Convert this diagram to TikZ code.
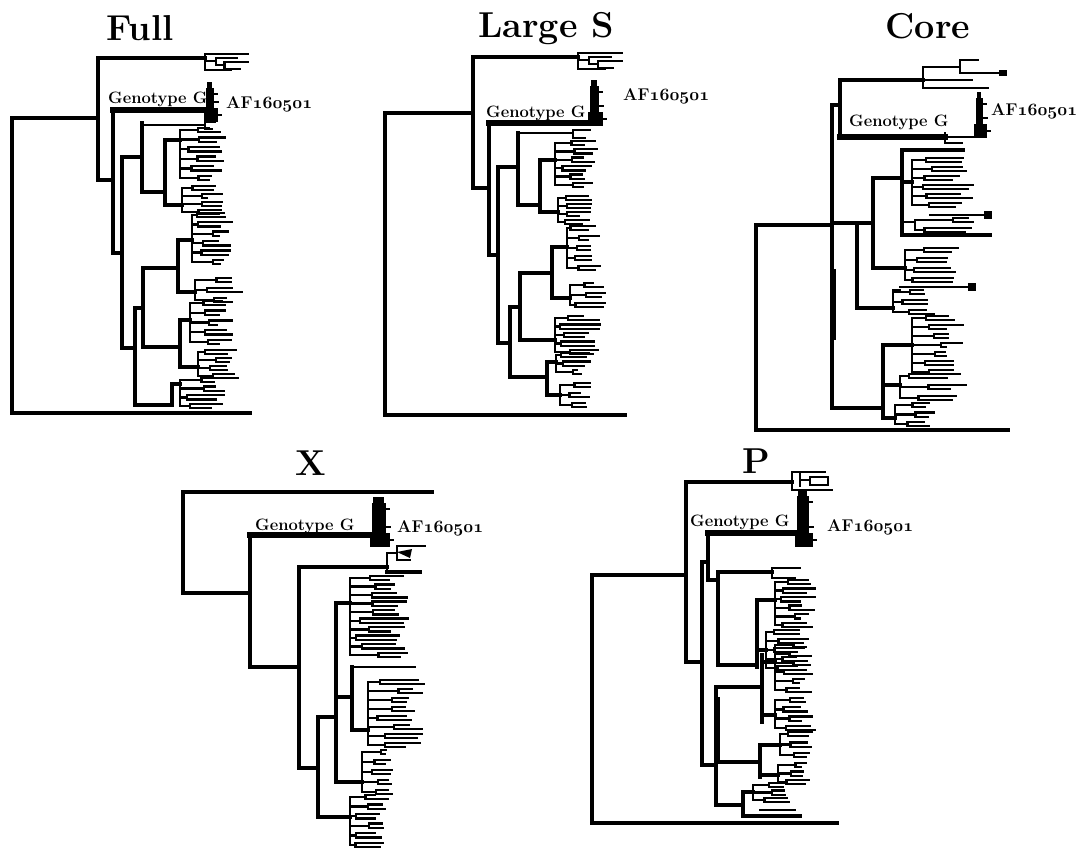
\documentclass[tikz,border=0pt]{standalone}
\begin{document}
\begin{tikzpicture}[x=1pt,y=-1pt,
  br/.style={line width=3.4pt,line cap=rect},
  lf/.style={line width=2.4pt,line cap=rect},
  gt/.style={line width=5.2pt,line cap=rect},
  ttl/.style={font=\fontsize{36}{42}\selectfont\bfseries,anchor=base,inner sep=0pt},
  glab/.style={font=\fontsize{16.5}{19}\selectfont\bfseries,anchor=base west,inner sep=0pt},
  alab/.style={font=\fontsize{17}{20}\selectfont\bfseries,anchor=base west,inner sep=0pt}]
\useasboundingbox (0,0) rectangle (1079,852);

% a two-level comb of leaves: x, ytop, ybottom, right end, seed
\newcommand\clust[5]{%
  \pgfmathsetseed{#5}%
  \pgfmathtruncatemacro\cN{max(1,round((#3-#2)/9))}%
  \draw[lf] (#1,#2) -- (#1,#3);%
  \foreach \k in {0,...,\cN}{%
    \pgfmathsetmacro\gy{#2+\k*(#3-#2)/\cN}%
    \pgfmathsetmacro\gx{#1+(0.1+0.45*rnd)*(#4-#1)}%
    \pgfmathsetmacro\la{#4-rnd*0.4*(#4-#1)}%
    \pgfmathsetmacro\lb{#4-rnd*0.4*(#4-#1)}%
    \draw[lf] (#1,\gy) -- (\gx,\gy) (\gx,\gy-2.2) -- (\gx,\gy+2.2)
      (\gx,\gy-2.2) -- (\la,\gy-2.2) (\gx,\gy+2.2) -- (\lb,\gy+2.2);%
  }%
}
% small outgroup clade: x, y, width
\newcommand\tclade[3]{%
  \draw[lf] (#1,#2-4) -- (#1,#2+12)
    (#1,#2-4) -- (#1+#3,#2-4)
    (#1,#2+3) -- (#1+0.25*#3,#2+3)
    (#1+0.25*#3,#2) -- (#1+0.25*#3,#2+7)
    (#1+0.25*#3,#2) -- (#1+0.75*#3,#2)
    (#1+0.25*#3,#2+7) -- (#1+0.45*#3,#2+7)
    (#1+0.45*#3,#2+4) -- (#1+0.45*#3,#2+11)
    (#1+0.45*#3,#2+4) -- (#1+#3,#2+4)
    (#1+0.45*#3,#2+11) -- (#1+0.8*#3,#2+11)
    (#1,#2+12) -- (#1+0.6*#3,#2+12);%
}
% dense genotype G clade: x, ytop, ybottom, width
\newcommand\afblock[4]{%
  \fill (#1,#2+6) rectangle (#1+#4,#3);
  \fill (#1+1,#2) rectangle (#1+#4-2,#2+8);
  \fill (#1-2,#3-14) rectangle (#1+#4+4,#3);
  \draw[lf] (#1+#4,#3-7) -- (#1+#4+7,#3-7) (#1+#4,#3-20) -- (#1+#4+4,#3-20)
    (#1+#4,#2+12) -- (#1+#4+3,#2+12);%
}
\newcommand\afname{AF{\usefont{OML}{cmm}{b}{it}160501}}

% ---------------- Full ----------------
\node[ttl] (tFull) at (140,40) {Full};
\draw[br] (12,118)--(12,413) (12,118)--(98,118) (12,413)--(250,413);
\draw[br] (98,58)--(98,180) (98,58)--(205,58) (98,180)--(113,180);
\tclade{205}{58}{43}
\draw[br] (113,110)--(113,253) (113,253)--(122,253);
\draw[gt] (113,110)--(205,110);
\afblock{206}{82}{122}{8}
\draw[br] (122,157)--(122,348) (122,157)--(142,157) (122,348)--(135,348);
\draw[br] (142,123)--(142,192) (142,192)--(165,192);
\draw[lf] (142,125)--(205,125) (205,122)--(205,129) (205,122)--(215,122) (205,129)--(212,129);
\draw[br] (165,140)--(165,205) (165,140)--(180,140) (165,205)--(182,205);
\clust{180}{130}{178}{226}{11}
\clust{182}{188}{212}{222}{12}
\draw[br] (135,308)--(135,405) (135,308)--(143,308) (135,405)--(172,405);
\draw[br] (143,268)--(143,347) (143,268)--(178,268) (143,347)--(180,347);
\draw[br] (178,240)--(178,292) (178,240)--(192,240) (178,292)--(195,292);
\clust{192}{215}{262}{232}{13}
\clust{195}{280}{300}{244}{14}
\draw[br] (180,320)--(180,367) (180,320)--(190,320) (180,367)--(198,367);
\clust{190}{303}{342}{235}{15}
\clust{198}{352}{376}{240}{16}
\draw[br] (172,384)--(172,405) (172,384)--(180,384);
\clust{180}{380}{406}{225}{17}
\node[glab] (gFull) at (108,103) {Genotype G};
\node[alab] (aFull) at (226,108) {\afname};

% ---------------- Large S ----------------
\node[ttl] (tLarge) at (546,37) {Large S};
\draw[br] (385,113)--(385,415) (385,113)--(473,113) (385,415)--(625,415);
\draw[br] (473,57)--(473,188) (473,57)--(578,57) (473,188)--(489,188);
\tclade{578}{57}{44}
\draw[br] (489,123)--(489,255) (489,255)--(498,255);
\draw[gt] (489,123)--(590,123);
\afblock{590}{80}{126}{9}
\draw[br] (498,167)--(498,343) (498,167)--(518,167) (498,343)--(510,343);
\draw[br] (518,133)--(518,205) (518,205)--(540,205);
\draw[lf] (518,133)--(573,133) (573,130)--(573,138) (573,130)--(590,130) (573,138)--(585,138);
\draw[br] (540,160)--(540,212) (540,160)--(555,160) (540,212)--(558,212);
\clust{555}{143}{185}{598}{21}
\clust{558}{198}{222}{592}{22}
\draw[br] (510,307)--(510,377) (510,307)--(520,307) (510,377)--(547,377);
\draw[br] (520,273)--(520,340) (520,273)--(552,273) (520,340)--(555,340);
\draw[br] (552,247)--(552,298) (552,247)--(567,247) (552,298)--(570,298);
\clust{567}{228}{268}{600}{23}
\clust{570}{285}{305}{605}{24}
\clust{555}{318}{352}{600}{25}
\draw[br] (547,362)--(547,395) (547,362)--(556,362) (547,395)--(560,395);
\clust{556}{355}{372}{590}{26}
\clust{560}{385}{405}{592}{27}
\node[glab] (gLarge) at (486,117) {Genotype G};
\node[alab] (aLarge) at (623,100) {\afname};

% ---------------- Core ----------------
\node[ttl] (tCore) at (928,38) {Core};
\draw[br] (756,225)--(756,430) (756,225)--(832,225) (756,430)--(1008,430);
\draw[br] (832,105)--(832,408) (832,105)--(840,105) (832,223)--(873,223) (832,408)--(883,408);
\draw[br,line width=5.2pt] (833,272)--(833,337);
\draw[br] (840,80)--(840,137) (840,80)--(923,80);
\draw[gt] (840,137)--(945,137);
\draw[lf] (945,137)--(978,137) (945,133)--(945,143) (945,143)--(962,143);
\draw[lf] (923,67)--(923,88) (923,67)--(960,67) (960,60)--(960,73) (960,60)--(978,60)
  (960,73)--(1003,73) (923,80)--(972,80) (923,88)--(988,88);
\fill (999,70) rectangle (1007,76);
\afblock{976}{92}{138}{7}
\draw[br] (857,223)--(857,308) (857,308)--(893,308);
\draw[br] (873,178)--(873,268) (873,178)--(902,178) (873,268)--(905,268);
\draw[br] (902,150)--(902,235) (902,150)--(963,150) (902,182)--(912,182) (902,235)--(990,235);
\clust{912}{160}{205}{975}{32}
\draw[lf] (930,215)--(988,215);
\fill (984,211) rectangle (992,219);
\draw[lf] (902,222)--(915,222);
\clust{915}{220}{230}{985}{33}
\clust{905}{250}{280}{958}{31}
\clust{893}{292}{312}{935}{34}
\draw[lf] (893,290)--(900,290) (900,287)--(972,287);
\fill (968,283) rectangle (976,291);
\draw[br] (883,345)--(883,418) (883,345)--(912,345) (883,385)--(900,385) (883,418)--(895,418);
\clust{912}{318}{372}{965}{35}
\clust{900}{376}{398}{968}{36}
\clust{895}{405}{424}{935}{37}
\node[glab] (gCore) at (849,126) {Genotype G};
\node[alab] (aCore) at (991,115) {\afname};

% ---------------- X ----------------
\node[ttl] (tX) at (311,475) {X};
\draw[br] (183,492)--(183,593) (183,492)--(432,492) (183,593)--(250,593);
\draw[br] (250,535)--(250,667) (250,667)--(299,667);
\draw[gt] (250,535)--(372,535);
\afblock{372}{497}{547}{14}
\draw[br] (299,567)--(299,768) (299,567)--(387,567) (299,768)--(318,768);
\draw[lf] (387,553)--(387,572) (387,553)--(397,553) (397,546)--(397,560)
  (397,546)--(425,546) (397,560)--(410,560);
\fill (397,552)--(412,549)--(410,558)--cycle;
\draw[br] (387,572)--(420,572);
\draw[br] (318,717)--(318,817) (318,717)--(336,717) (318,817)--(350,817);
\draw[br] (336,603)--(336,782) (336,603)--(350,603) (336,697)--(352,697) (336,782)--(362,782);
\clust{350}{578}{655}{408}{41}
\draw[br] (352,667)--(352,730) (352,730)--(368,730);
\draw[lf] (352,667)--(415,667);
\clust{368}{682}{745}{425}{42}
\clust{362}{752}{792}{398}{43}
\clust{350}{797}{845}{390}{44}
\node[glab] (gX) at (255,530) {Genotype G};
\node[alab] (aX) at (397,532) {\afname};

% ---------------- P ----------------
\node[ttl] (tP) at (756,473) {P};
\draw[br] (592,575)--(592,823) (592,575)--(686,575) (592,823)--(837,823);
\draw[br] (686,482)--(686,662) (686,482)--(792,482) (686,662)--(702,662);
\draw[lf] (792,472)--(792,490) (792,472)--(825,472) (792,490)--(832,490)
  (800,472)--(800,486) (800,480)--(810,480);
\draw[lf] (810,477) rectangle (828,485);
\draw[br] (702,562)--(702,765) (702,562)--(708,562) (702,765)--(716,765);
\draw[br] (708,533)--(708,580) (708,580)--(718,580);
\draw[gt] (708,533)--(795,533);
\afblock{797}{490}{547}{12}
\draw[br] (718,572)--(718,665) (718,572)--(772,572) (718,665)--(757,665);
\draw[lf] (772,568)--(772,578) (772,568)--(800,568) (772,578)--(795,578);
\draw[br] (757,600)--(757,667) (757,600)--(775,600) (757,650)--(766,650);
\clust{775}{582}{625}{815}{51}
\clust{766}{632}{668}{808}{52}
\draw[br] (716,687)--(716,805) (716,687)--(762,687) (716,762)--(760,762) (716,805)--(743,805);
\draw[br,line width=5.2pt] (717,700)--(717,760);
\draw[br] (762,655)--(762,722) (762,662)--(775,662) (762,715)--(775,715);
\clust{775}{645}{690}{812}{53}
\clust{775}{700}{728}{815}{54}
\draw[br] (760,745)--(760,777) (760,745)--(780,745) (760,775)--(778,775);
\clust{780}{734}{755}{815}{55}
\clust{778}{765}{782}{810}{56}
\draw[br] (743,792)--(743,816) (743,792)--(753,792) (743,816)--(800,816);
\clust{753}{785}{800}{792}{57}
\draw[lf] (760,810)--(795,810);
\node[glab] (gP) at (690,526) {Genotype G};
\node[alab] (aP) at (827,531) {\afname};
\end{tikzpicture}
\end{document}
